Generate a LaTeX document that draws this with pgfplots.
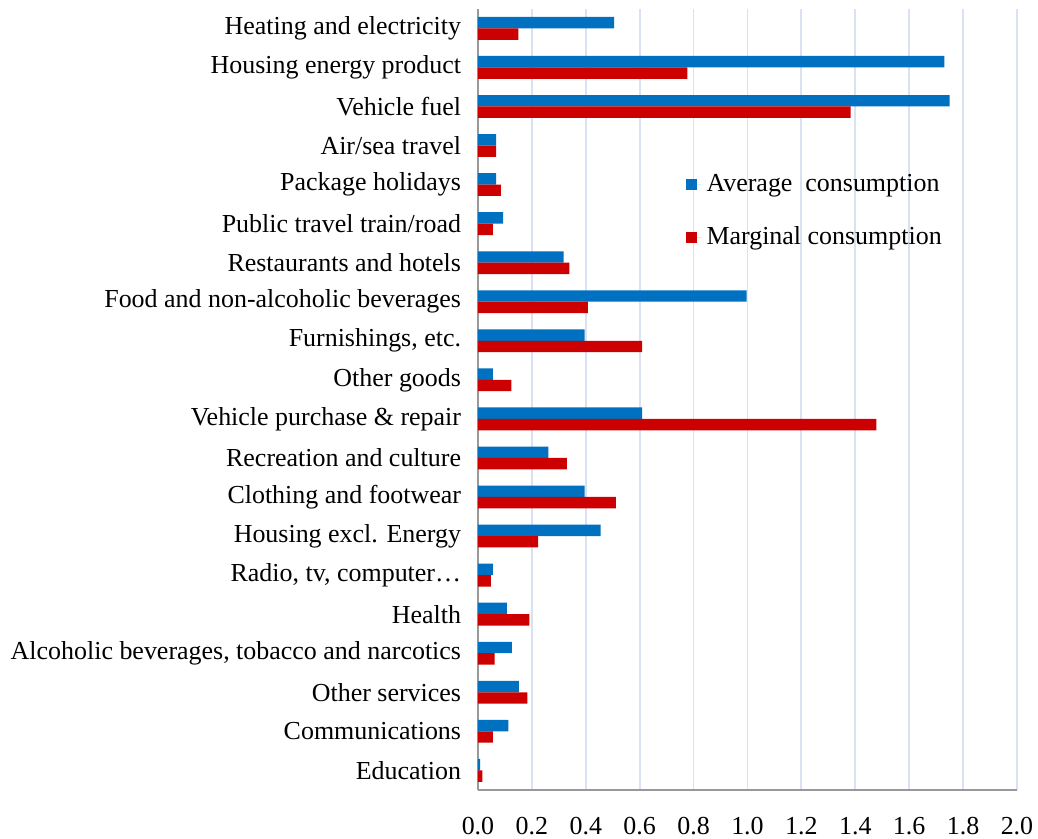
\documentclass[border=0pt]{standalone}
\usepackage{fontspec}
\setmainfont{Liberation Serif}
\usepackage{pgfplots}
\pgfplotsset{compat=1.18}
\definecolor{avgblue}{HTML}{0070C0}
\definecolor{margred}{HTML}{CC0000}
\definecolor{gridc}{HTML}{D9E1F2}
\begin{document}
\begin{tikzpicture}
\begin{axis}[
  name=ax, at={(0,0)}, anchor=south west,
  scale only axis, width=207.7pt, height=301pt,
  xbar, bar width=4.4pt,
  xmin=0, xmax=2, ymin=-0.5, ymax=19.5,
  xtick={0,0.2,0.4,0.6,0.8,1.0,1.2,1.4,1.6,1.8,2.0},
  /pgf/number format/fixed,
  /pgf/number format/fixed zerofill,
  /pgf/number format/precision=1,
  /pgf/number format/assume math mode=true,
  x tick label style={yshift=-7pt},
  ytick={0,...,19},
  yticklabels={Education, Communications, Other services,
    {Alcoholic beverages, tobacco and narcotics}, Health,
    {Radio, tv, computer…}, Housing excl. Energy, Clothing and footwear,
    Recreation and culture, Vehicle purchase \& repair, Other goods,
    {Furnishings, etc.}, Food and non-alcoholic beverages,
    Restaurants and hotels, Public travel train/road, Package holidays,
    Air/sea travel\ , Vehicle fuel, Housing energy product,
    Heating and electricity},
  y tick label style={xshift=-3pt},
  major tick length=0pt,
  axis x line*=bottom, axis y line*=left,
  axis line style={draw=gray!80, line width=0.8pt, -},
  xmajorgrids, grid style={gridc, line width=0.7pt},
  legend cell align=left,
  legend style={at={(rel axis cs:0.3855,0.741)}, anchor=west, draw=none, fill=none,
    inner sep=0pt, row sep=8pt, font=\normalsize},
  legend image code/.code={\fill[#1] (0pt,-2.15pt) rectangle (4.3pt,2.15pt);
    \path (0pt,0pt) -- (5.8pt,0pt);},
]
\addplot[fill=avgblue, draw=none, bar shift=2.2pt] coordinates {
  (0.008,0) (0.113,1) (0.152,2) (0.126,3) (0.107,4) (0.055,5)
  (0.455,6) (0.396,7) (0.261,8) (0.609,9) (0.055,10) (0.396,11)
  (0.997,12) (0.318,13) (0.093,14) (0.067,15) (0.067,16)
  (1.750,17) (1.731,18) (0.505,19)};
\addlegendentry{Average\ \ consumption}
\addplot[fill=margred, draw=none, bar shift=-2.2pt] coordinates {
  (0.016,0) (0.055,1) (0.183,2) (0.062,3) (0.191,4) (0.048,5)
  (0.223,6) (0.512,7) (0.330,8) (1.478,9) (0.124,10) (0.609,11)
  (0.408,12) (0.339,13) (0.055,14) (0.085,15) (0.067,16)
  (1.383,17) (0.777,18) (0.150,19)};
\addlegendentry{Marginal consumption}
\end{axis}
\pgfresetboundingbox
\path[use as bounding box] (-184.2pt,-18.9pt) rectangle (215.8pt,304.4pt);
\end{tikzpicture}
\end{document}
